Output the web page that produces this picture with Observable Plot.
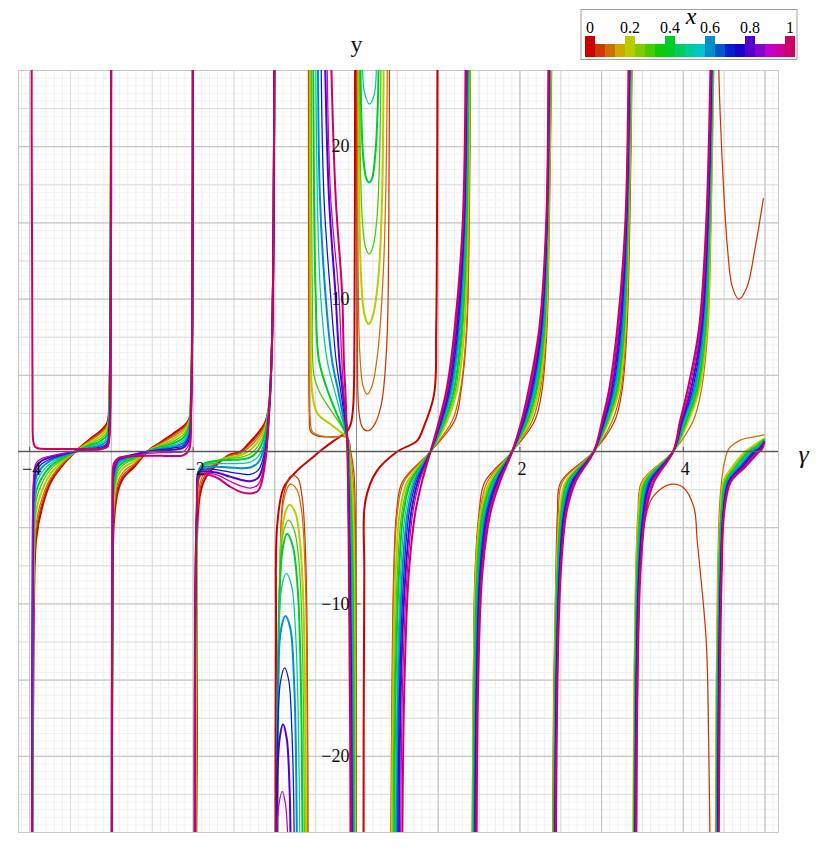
<!DOCTYPE html>
<html><head><meta charset="utf-8">
<script src="https://cdn.jsdelivr.net/npm/d3@7"></script>
<script src="https://cdn.jsdelivr.net/npm/@observablehq/plot@0.6"></script>
<style>
body{margin:0;background:#fff;}
#wrap{position:relative;width:818px;height:850px;font-family:'Liberation Serif','Times New Roman',serif;}
#leg{position:absolute;left:0;top:0;}
#wrap text{font-family:'Liberation Serif','Times New Roman',serif;}
</style></head><body><div id="wrap"></div>
<script>
// parameter values of the drawn curves
const XS = [0,0.05,0.1,0.2,0.3,0.4,0.5,0.6,0.7,0.8,0.9,1];
// legend swatch values
const LEG = [0,0.05,0.1,0.15,0.2,0.25,0.3,0.35,0.4,0.45,0.5,0.55,0.6,0.65,0.7,0.75,0.8,0.85,0.9,0.95,1];
const LEG_LABELS = ["0","0.2","0.4","0.6","0.8","1"];
const X_TICKS = [-4,-2,2,4];
const X_TICK_LABELS = ["−4","−2","2","4"];
const Y_TICKS = [-20,-10,10,20];
const Y_TICK_LABELS = ["−20","−10","10","20"];

// Branch (-4,-3): y at shared gamma grid
const G1 = [-3.975,-3.965,-3.95,-3.92,-3.85,-3.75,-3.62,-3.44,-3.26,-3.13,-3.05,-3.025,-3.012,-3.003];
const L1 = [
 [-40,-25,-11,-5.7,-3.7,-2.1,-1.05,0,0.83,1.36,1.9,4,10,30],
 [-40,-23,-10,-5.2,-3.4,-1.95,-0.98,0,0.78,1.28,1.8,4,10,30],
 [-40,-21,-9,-4.7,-3.1,-1.8,-0.9,0,0.72,1.2,1.7,3.9,10,30],
 [-40,-19,-7.5,-3.9,-2.6,-1.5,-0.75,0,0.6,1.02,1.5,3.6,9.5,30],
 [-40,-17,-6.5,-3.2,-2.1,-1.2,-0.62,0,0.5,0.85,1.3,3.3,9,30],
 [-40,-15,-5.5,-2.6,-1.7,-1.0,-0.5,0,0.4,0.7,1.1,3.0,8.5,30],
 [-40,-13,-4.5,-2.1,-1.35,-0.8,-0.4,0,0.32,0.55,0.9,2.6,8,30],
 [-40,-12,-3.6,-1.65,-1.05,-0.62,-0.32,0,0.24,0.42,0.72,2.2,7,30],
 [-40,-11,-2.8,-1.3,-0.8,-0.5,-0.25,0,0.17,0.3,0.55,1.7,5.5,30],
 [-40,-9.5,-2.2,-1.0,-0.6,-0.38,-0.2,0,0.11,0.2,0.42,1.3,4.2,30],
 [-40,-8,-1.6,-0.75,-0.45,-0.3,-0.15,0,0.07,0.13,0.3,0.9,3,30],
 [40,3,0.5,0.25,0.18,0.16,0.16,0.16,0.16,0.17,0.3,0.9,3,30]
];
// Branch (-3,-2)
const G2 = [-2.995,-2.985,-2.97,-2.92,-2.85,-2.72,-2.56,-2.4,-2.25,-2.12,-2.05,-2.025,-2.01,-2.002];
const L2 = [
 [-30,-10,-4.7,-2.6,-1.7,-1.0,0,0.6,1.15,1.65,2.1,4,10,30],
 [-30,-9,-4.2,-2.3,-1.5,-0.9,0,0.55,1.05,1.55,2.05,4,10,30],
 [-30,-8.5,-3.8,-2.0,-1.3,-0.8,0,0.5,0.95,1.45,2.0,4,10,30],
 [-30,-8,-3.2,-1.6,-1.05,-0.65,0,0.42,0.8,1.3,1.9,3.9,10,30],
 [-30,-7,-2.7,-1.3,-0.85,-0.5,0,0.35,0.65,1.1,1.75,3.8,10,30],
 [-30,-6.5,-2.3,-1.05,-0.7,-0.4,0,0.28,0.52,0.9,1.6,3.6,9.5,30],
 [-30,-6,-2.0,-0.9,-0.6,-0.33,0,0.22,0.4,0.72,1.4,3.5,9.5,30],
 [-30,-5.5,-1.7,-0.75,-0.5,-0.27,0,0.17,0.3,0.55,1.2,3.3,9,30],
 [-30,-5,-1.4,-0.62,-0.42,-0.22,0,0.12,0.22,0.4,1.0,3.1,9,30],
 [-30,-4.5,-1.2,-0.52,-0.36,-0.2,-0.02,0.07,0.12,0.25,0.75,2.9,8.5,30],
 [-30,-4,-1.0,-0.48,-0.34,-0.25,-0.12,-0.08,-0.05,0.0,0.5,2.7,8.5,30],
 [-30,-3,-0.8,-0.45,-0.35,-0.3,-0.28,-0.28,-0.3,-0.25,0.1,2.5,8,30]
];
// Branch (-2,-1)
const G3 = [-1.975,-1.955,-1.92,-1.85,-1.7,-1.55,-1.42,-1.3,-1.2,-1.12,-1.07,-1.035,-1.015,-1.003];
const L3 = [
 [-40,-20,-3.0,-1.75,-0.8,-0.2,0,0.65,1.25,1.9,3,7,15,30],
 [-40,-15,-2.6,-1.5,-0.7,-0.25,-0.05,0.5,1.1,1.8,3,7,15,30],
 [-40,-12,-2.2,-1.3,-0.65,-0.3,-0.12,0.35,0.95,1.7,3,7,15,30],
 [-40,-8,-1.6,-1.0,-0.6,-0.38,-0.25,0.1,0.7,1.5,3,7,15,30],
 [-40,-6,-1.3,-0.85,-0.6,-0.45,-0.38,-0.15,0.4,1.3,3,7,15,30],
 [-40,-5,-1.1,-0.75,-0.6,-0.55,-0.52,-0.38,0.1,1.1,3,7,15,30],
 [-40,-4.5,-1.1,-0.85,-0.8,-0.8,-0.78,-0.7,-0.3,0.8,2.9,7,15,30],
 [-40,-4.2,-1.15,-1.0,-1.0,-1.05,-1.1,-1.05,-0.7,0.5,2.8,7,15,30],
 [-40,-4,-1.25,-1.15,-1.2,-1.35,-1.45,-1.5,-1.2,0.1,2.7,7,15,30],
 [-40,-4,-1.35,-1.3,-1.4,-1.65,-1.85,-1.95,-1.7,-0.3,2.6,7,15,30],
 [-40,-4,-1.5,-1.4,-1.55,-1.95,-2.25,-2.4,-2.15,-0.6,2.5,7,15,30],
 [-40,-4,-1.6,-1.5,-1.75,-2.3,-2.65,-2.75,-2.55,-0.8,2.5,7,15,30]
];
// x = 0 curve near gamma = 0: [gamma, y]
const RED_A = [[-0.992,-30],[-0.985,-12],[-0.97,-4.8],[-0.89,-2.36],[-0.73,-1.27],[-0.55,-0.45],[-0.44,0.05],[-0.28,0.7],[-0.155,1.14],[-0.11,1.36],[-0.07,1.8],[-0.04,3],[-0.025,8],[-0.017,30]];
const RED_B = [[0.085,-30],[0.095,-8],[0.11,-3.2],[0.25,-1.27],[0.5,0],[0.74,0.7],[0.82,1.57],[0.95,3.77],[0.975,8],[0.985,15],[0.992,30]];
// closed-top loops in (-1,-0.6): [gamma, y]
const LOOPS = [
 null,
 [[-0.955,-30],[-0.935,-7],[-0.89,-2.8],[-0.8,-1.6],[-0.72,-1.75],[-0.665,-3],[-0.625,-6.5],[-0.603,-13],[-0.592,-30]],
 [[-0.957,-30],[-0.937,-8],[-0.89,-3.2],[-0.81,-2.14],[-0.73,-2.5],[-0.67,-4],[-0.628,-8],[-0.607,-15],[-0.597,-30]],
 [[-0.96,-30],[-0.94,-9],[-0.89,-4.4],[-0.82,-3.5],[-0.75,-4],[-0.69,-6],[-0.65,-10],[-0.627,-17],[-0.615,-30]],
 [[-0.965,-30],[-0.945,-10],[-0.9,-5.4],[-0.83,-4.5],[-0.76,-5.2],[-0.7,-7.5],[-0.665,-12],[-0.645,-19],[-0.635,-30]],
 [[-0.97,-30],[-0.95,-11],[-0.905,-6.4],[-0.85,-5.4],[-0.78,-6.2],[-0.72,-9],[-0.685,-14],[-0.667,-21],[-0.657,-30]],
 [[-0.972,-30],[-0.955,-13],[-0.915,-8.9],[-0.86,-8],[-0.795,-8.8],[-0.745,-12],[-0.715,-17],[-0.697,-23],[-0.69,-30]],
 [[-0.975,-30],[-0.96,-15],[-0.925,-11.7],[-0.87,-10.8],[-0.81,-11.6],[-0.765,-15],[-0.74,-20],[-0.725,-30]],
 [[-0.977,-30],[-0.963,-18],[-0.93,-15.1],[-0.88,-14.2],[-0.83,-15],[-0.79,-18.5],[-0.768,-23],[-0.755,-30]],
 [[-0.978,-30],[-0.966,-21],[-0.94,-18.8],[-0.9,-17.9],[-0.855,-18.8],[-0.82,-22],[-0.8,-30]],
 [[-0.98,-30],[-0.97,-24.5],[-0.945,-23],[-0.91,-22.3],[-0.87,-23.1],[-0.84,-25.5],[-0.825,-30]],
 null
];
// descending branches in (-0.6,0): [gamma, y]
const DESC = [
 null,
 [[-0.588,30],[-0.584,8],[-0.578,2.5],[-0.56,1.3],[-0.48,1.02],[-0.3,0.95],[-0.114,0.92],[-0.07,0],[-0.03,-1.5],[-0.012,-6],[-0.005,-30]],
 [[-0.58,30],[-0.576,10],[-0.572,3.8],[-0.565,2],[-0.54,1.3],[-0.45,1.05],[-0.3,0.96],[-0.114,0.92],[-0.075,-0.2],[-0.04,-2],[-0.018,-7],[-0.009,-30]],
 [[-0.566,30],[-0.563,10.3],[-0.54,3.77],[-0.48,2.5],[-0.32,1.8],[-0.2,1.3],[-0.114,0.92],[-0.08,-0.5],[-0.05,-2.5],[-0.028,-8],[-0.016,-30]],
 [[-0.553,30],[-0.55,16.9],[-0.54,10.3],[-0.52,5],[-0.44,3.77],[-0.3,2.6],[-0.114,0.92],[-0.085,-0.9],[-0.058,-3.5],[-0.036,-10],[-0.023,-30]],
 [[-0.532,30],[-0.52,16.9],[-0.5,10.3],[-0.46,6],[-0.339,3.77],[-0.22,2.2],[-0.114,0.92],[-0.09,-1.2],[-0.064,-4.5],[-0.043,-11],[-0.03,-30]],
 [[-0.505,30],[-0.48,16.9],[-0.44,10.3],[-0.36,6],[-0.257,3.77],[-0.18,2.2],[-0.114,0.92],[-0.093,-1.5],[-0.07,-5],[-0.05,-12],[-0.037,-30]],
 [[-0.475,30],[-0.449,16.9],[-0.38,10.3],[-0.3,6],[-0.216,3.77],[-0.16,2.2],[-0.114,0.92],[-0.096,-1.8],[-0.076,-6],[-0.056,-14],[-0.044,-30]],
 [[-0.44,30],[-0.4,16.9],[-0.318,10.3],[-0.25,6],[-0.188,3.77],[-0.145,2.2],[-0.114,0.92],[-0.098,-2],[-0.08,-7],[-0.062,-15],[-0.051,-30]],
 [[-0.4,30],[-0.339,16.9],[-0.257,10.3],[-0.21,6],[-0.167,3.77],[-0.135,2.2],[-0.114,0.92],[-0.1,-2.2],[-0.085,-8],[-0.068,-16],[-0.058,-30]],
 [[-0.37,30],[-0.318,16.9],[-0.216,10.3],[-0.18,6],[-0.155,3.77],[-0.13,2.2],[-0.114,0.92],[-0.101,-2.4],[-0.088,-9],[-0.072,-17],[-0.065,-30]],
 [[-0.33,30],[-0.257,16.9],[-0.175,10.3],[-0.155,6],[-0.135,3.77],[-0.124,2.2],[-0.114,0.92],[-0.102,-2.6],[-0.09,-10],[-0.078,-18],[-0.072,-30]]
];
// U-shaped branches in (0,0.4): [gamma, y]
const CUPS = [
 null,
 [[0.004,30],[0.01,8],[0.03,2.6],[0.07,1.6],[0.13,1.35],[0.2,1.6],[0.3,3],[0.37,7],[0.395,15],[0.405,30]],
 [[0.012,30],[0.02,12],[0.04,6.5],[0.08,4.3],[0.13,3.77],[0.19,4.3],[0.26,6.5],[0.33,12],[0.368,20],[0.38,30]],
 [[0.025,30],[0.035,16],[0.06,11],[0.1,8.9],[0.15,8.36],[0.2,8.9],[0.26,11],[0.31,16],[0.335,30]],
 [[0.035,30],[0.045,20],[0.07,15.3],[0.11,13.4],[0.155,12.95],[0.2,13.4],[0.25,15.3],[0.285,20],[0.305,30]],
 [[0.045,30],[0.055,23],[0.08,19.5],[0.12,17.9],[0.155,17.65],[0.19,17.9],[0.23,19.5],[0.262,23],[0.277,30]],
 [[0.06,30],[0.07,25.5],[0.1,23.5],[0.16,22.8],[0.22,23.5],[0.245,25.5],[0.255,30]],
 null,null,null,null,null
];
// rising branches for gamma > 0: gamma at shared y levels
const YL = [-26,-15,-8,-4,-2,0,2,4,8,15,26];
const R1 = [
 null,
 [0.42,0.435,0.455,0.49,0.56,0.906,1.2,1.28,1.35,1.38,1.395],
 [0.425,0.44,0.46,0.5,0.58,0.906,1.17,1.27,1.345,1.375,1.39],
 [0.43,0.45,0.48,0.53,0.62,0.906,1.11,1.23,1.32,1.365,1.385],
 [0.445,0.465,0.5,0.555,0.645,0.906,1.09,1.21,1.30,1.355,1.378],
 [0.46,0.48,0.52,0.575,0.665,0.906,1.075,1.19,1.285,1.345,1.37],
 [0.475,0.5,0.54,0.6,0.69,0.906,1.06,1.17,1.27,1.335,1.363],
 [0.49,0.515,0.56,0.625,0.71,0.906,1.05,1.155,1.255,1.327,1.356],
 [0.505,0.53,0.58,0.645,0.73,0.906,1.04,1.14,1.24,1.32,1.35],
 [0.52,0.545,0.6,0.67,0.75,0.906,1.03,1.125,1.225,1.313,1.345],
 [0.54,0.565,0.62,0.69,0.77,0.906,1.02,1.11,1.21,1.306,1.34],
 [0.56,0.587,0.64,0.72,0.8,0.906,1.01,1.1,1.2,1.3,1.335]
];
const R2 = [
 null,
 [1.415,1.43,1.45,1.5,1.57,1.906,2.18,2.27,2.33,2.36,2.39],
 [1.418,1.432,1.455,1.51,1.6,1.906,2.15,2.25,2.325,2.355,2.385],
 [1.42,1.435,1.46,1.52,1.63,1.906,2.12,2.23,2.315,2.35,2.38],
 [1.425,1.44,1.47,1.535,1.65,1.906,2.1,2.21,2.305,2.345,2.375],
 [1.43,1.445,1.48,1.55,1.665,1.906,2.085,2.195,2.295,2.34,2.37],
 [1.435,1.452,1.49,1.565,1.68,1.906,2.07,2.18,2.285,2.337,2.366],
 [1.44,1.46,1.5,1.58,1.695,1.906,2.06,2.165,2.275,2.334,2.362],
 [1.447,1.468,1.51,1.595,1.71,1.906,2.05,2.15,2.265,2.331,2.358],
 [1.455,1.476,1.52,1.61,1.725,1.906,2.04,2.135,2.255,2.328,2.355],
 [1.463,1.484,1.53,1.625,1.74,1.906,2.03,2.12,2.245,2.325,2.352],
 [1.47,1.49,1.54,1.64,1.755,1.906,2.02,2.105,2.235,2.322,2.35]
];
const R3 = [
 null,
 [2.4,2.415,2.44,2.46,2.5,2.905,3.16,3.25,3.31,3.345,3.375],
 [2.405,2.42,2.445,2.47,2.52,2.905,3.13,3.235,3.3,3.34,3.37],
 [2.41,2.425,2.45,2.49,2.56,2.905,3.09,3.21,3.29,3.33,3.366],
 [2.413,2.43,2.455,2.5,2.575,2.905,3.075,3.195,3.28,3.325,3.362],
 [2.416,2.433,2.46,2.51,2.59,2.905,3.065,3.18,3.27,3.32,3.358],
 [2.42,2.437,2.467,2.52,2.605,2.905,3.055,3.165,3.26,3.315,3.354],
 [2.424,2.441,2.474,2.53,2.62,2.905,3.045,3.15,3.25,3.31,3.35],
 [2.428,2.445,2.481,2.54,2.635,2.905,3.035,3.135,3.235,3.305,3.345],
 [2.432,2.45,2.488,2.55,2.65,2.905,3.025,3.12,3.22,3.3,3.34],
 [2.436,2.455,2.495,2.56,2.665,2.905,3.015,3.105,3.205,3.295,3.335],
 [2.44,2.46,2.5,2.57,2.68,2.905,3.005,3.09,3.19,3.29,3.33]
];
const R4 = [
 null,
 null,
 [3.385,3.398,3.418,3.445,3.49,3.876,4.12,4.22,4.3,4.34,4.375],
 [3.39,3.402,3.424,3.455,3.51,3.876,4.06,4.19,4.29,4.33,4.37],
 [3.394,3.407,3.43,3.466,3.525,3.876,4.045,4.175,4.278,4.325,4.366],
 [3.398,3.412,3.436,3.477,3.54,3.876,4.03,4.16,4.266,4.32,4.362],
 [3.402,3.416,3.442,3.488,3.555,3.876,4.015,4.145,4.254,4.314,4.358],
 [3.405,3.42,3.448,3.499,3.57,3.876,4.0,4.13,4.242,4.308,4.354],
 [3.408,3.424,3.454,3.51,3.585,3.876,3.99,4.11,4.23,4.302,4.35],
 [3.411,3.428,3.46,3.52,3.6,3.876,3.98,4.09,4.218,4.296,4.345],
 [3.415,3.433,3.467,3.53,3.62,3.876,3.97,4.07,4.205,4.29,4.34],
 [3.42,3.44,3.475,3.54,3.64,3.876,3.96,4.05,4.19,4.28,4.335]
];
// last branch, ends at gamma = 5: [gamma, y]
const R5 = [
 null,
 null,
 [[4.39,-30],[4.405,-15],[4.42,-8],[4.44,-4],[4.46,-2.4],[4.5,-0.8],[4.56,0.2],[4.7,0.75],[4.85,0.95],[4.99,1.1]],
 [[4.395,-30],[4.41,-15],[4.43,-8],[4.455,-4],[4.49,-2],[4.6,-1],[4.76,0],[4.88,0.45],[4.99,0.85]],
 [[4.4,-30],[4.414,-15],[4.435,-8],[4.462,-4],[4.505,-2],[4.625,-1],[4.785,0],[4.895,0.4],[4.99,0.8]],
 [[4.404,-30],[4.418,-15],[4.44,-8],[4.469,-4],[4.52,-2],[4.645,-1],[4.81,0],[4.905,0.35],[4.99,0.75]],
 [[4.408,-30],[4.423,-15],[4.445,-8],[4.476,-4],[4.53,-2],[4.665,-1],[4.83,0],[4.915,0.3],[4.99,0.7]],
 [[4.412,-30],[4.428,-15],[4.45,-8],[4.482,-4],[4.54,-2],[4.685,-1],[4.85,0],[4.925,0.27],[4.99,0.67]],
 [[4.416,-30],[4.433,-15],[4.456,-8],[4.488,-4],[4.55,-2],[4.705,-1],[4.87,0],[4.935,0.24],[4.99,0.63]],
 [[4.42,-30],[4.438,-15],[4.461,-8],[4.493,-4],[4.56,-2],[4.725,-1],[4.89,0],[4.945,0.21],[4.99,0.6]],
 [[4.425,-30],[4.443,-15],[4.466,-8],[4.497,-4],[4.57,-2],[4.745,-1],[4.91,0],[4.955,0.18],[4.99,0.57]],
 [[4.43,-30],[4.448,-15],[4.47,-8],[4.5,-4],[4.58,-2],[4.76,-1],[4.93,0],[4.965,0.16],[4.99,0.55]]
];
// the x = 0.05 curve past gamma = 3.4
const SP_ARCH = [[3.43,-30],[3.45,-12],[3.5,-5.5],[3.6,-3.23],[3.72,-2.47],[3.86,-2.14],[4.0,-2.36],[4.13,-3.67],[4.17,-5.86],[4.28,-12.4],[4.31,-18.9],[4.335,-30]];
const SP_CUP = [[4.43,30],[4.435,25],[4.476,19.1],[4.537,13.6],[4.6,10.8],[4.68,10.0],[4.78,10.8],[4.88,13.4],[4.98,16.6]];

function hsvColor(x){
  const h = 330*x/60, c = 0.8, m = c*(1-Math.abs(h%2-1));
  let r=0,g=0,b=0;
  if(h<1){r=c;g=m}else if(h<2){r=m;g=c}else if(h<3){g=c;b=m}else if(h<4){g=m;b=c}else if(h<5){r=m;b=c}else{r=c;b=m}
  return d3.rgb(r*255,g*255,b*255).formatHex();
}
const isThick = x => Math.abs(x*5-Math.round(x*5))<1e-6;
const SERIF = "'Liberation Serif','Times New Roman',serif";

const marks = [];
// grid
const gMinX = d3.range(-41,52).map(i=>i/10);
const gHalfX = d3.range(-8,11).map(i=>i/2);
const gIntX = d3.range(-4,6);
const gMinY = d3.range(-50,51).map(i=>i/2);
const gMidY = d3.range(-10,11).map(i=>i*2.5);
const gMajY = d3.range(-5,6).map(i=>i*5);
marks.push(Plot.ruleX(gMinX,{stroke:"#efefef"}));
marks.push(Plot.ruleY(gMinY,{stroke:"#f2f2f2"}));
marks.push(Plot.ruleX(gHalfX,{stroke:"#dcdcdc"}));
marks.push(Plot.ruleY(gMidY,{stroke:"#dcdcdc"}));
marks.push(Plot.ruleX(gIntX,{stroke:"#c4c4c4"}));
marks.push(Plot.ruleY(gMajY,{stroke:"#c4c4c4"}));
marks.push(Plot.frame({stroke:"#c8c8c8"}));
marks.push(Plot.ruleX([0],{stroke:"#8a8a8a"}));

XS.forEach((xv,k)=>{
  const pts = [];
  const add = (b, arr)=>arr.forEach(p=>pts.push({g:p[0],y:p[1],b}));
  add("L1", G1.map((g,i)=>[g,L1[k][i]]));
  add("L2", G2.map((g,i)=>[g,L2[k][i]]));
  add("L3", G3.map((g,i)=>[g,L3[k][i]]));
  if(k===0){ add("RA",RED_A); add("RB",RED_B); }
  if(LOOPS[k]) add("LP",LOOPS[k]);
  if(DESC[k]) add("DS",DESC[k]);
  if(CUPS[k]) add("CP",CUPS[k]);
  [R1,R2,R3,R4].forEach((R,j)=>{ if(R[k]) add("R"+(j+1), YL.map((y,i)=>[R[k][i],y])); });
  if(R5[k]) add("R5",R5[k]);
  if(k===1){ add("SA",SP_ARCH); add("SC",SP_CUP); }
  marks.push(Plot.line(pts,{x:"g",y:"y",z:"b",stroke:hsvColor(xv),strokeWidth:isThick(xv)?2:1.25,curve:"catmull-rom",clip:true}));
});

// axes
marks.push(Plot.ruleY([0],{stroke:"#5a5a5a",strokeWidth:1.5}));
marks.push(Plot.link(Y_TICKS,{x1:0,x2:0.05,y1:d=>d,y2:d=>d,stroke:"#555"}));
marks.push(Plot.link(X_TICKS,{x1:d=>d,x2:d=>d,y1:0,y2:0.3,stroke:"#555"}));
marks.push(Plot.text(X_TICKS,{x:d=>d,y:0,text:(d,i)=>X_TICK_LABELS[i],dy:18,dx:2,fontSize:18,fontFamily:SERIF,fill:"#111"}));
marks.push(Plot.text(Y_TICKS,{x:0,y:d=>d,text:(d,i)=>Y_TICK_LABELS[i],textAnchor:"end",dx:-7,fontSize:18,fontFamily:SERIF,fill:"#111"}));
marks.push(Plot.text(["y"],{x:0,y:25,text:d=>d,dy:-26,fontSize:24,fontFamily:SERIF,fill:"#111"}));
marks.push(Plot.text(["γ"],{x:5.165,y:0,text:d=>d,dx:25,dy:3,fontSize:26,fontStyle:"italic",fontFamily:SERIF,fill:"#111"}));

const chart = Plot.plot({
  width:818,height:850,
  marginLeft:18,marginRight:40,marginTop:70,marginBottom:18,
  x:{domain:[-4.137,5.165],axis:null},
  y:{domain:[-25,25],axis:null},
  style:{background:"#fff",overflow:"visible",fontFamily:SERIF},
  marks
});
const wrap = document.getElementById("wrap");
wrap.appendChild(chart);

// legend
const leg = d3.select(wrap).append("svg").attr("id","leg").attr("width",818).attr("height",70).style("font-family",SERIF);
leg.append("rect").attr("x",581).attr("y",9.5).attr("width",216).attr("height",50).attr("fill","#fff").attr("stroke","#a0a0a0");
leg.append("text").attr("x",691).attr("y",24).attr("text-anchor","middle").style("font-family",SERIF).attr("font-style","italic").attr("font-size",24).text("x");
LEG.forEach((v,i)=>{
  const tall = i%4===0;
  leg.append("rect").attr("x",585+i*10).attr("y",tall?36:44).attr("width",10).attr("height",tall?21:13).attr("fill",hsvColor(v));
});
LEG_LABELS.forEach((t,i)=>{
  leg.append("text").attr("x",590+i*40).attr("y",33).attr("text-anchor","middle").style("font-family",SERIF).attr("font-size",16).text(t);
});
</script></body></html>
